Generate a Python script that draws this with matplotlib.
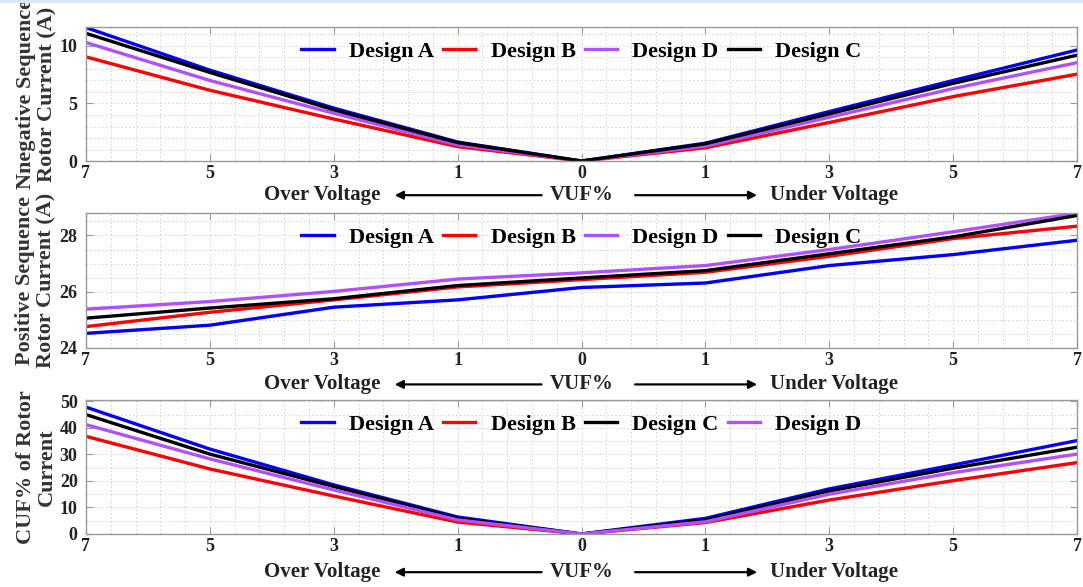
import numpy as np
import matplotlib
matplotlib.use("Agg")
import matplotlib.pyplot as plt
from matplotlib.ticker import MultipleLocator
from matplotlib.lines import Line2D

plt.rcParams["font.family"] = ["Liberation Serif", "DejaVu Serif"]
plt.rcParams["font.weight"] = "bold"

# VUF% levels, over voltage on the left, under voltage on the right
vuf_labels = ["7", "5", "3", "1", "0", "1", "3", "5", "7"]

# negative sequence rotor current (A)
neg_a = [11.6, 7.9, 4.6, 1.65, 0.0, 1.55, 4.3, 7.0, 9.65]
neg_b = [9.05, 6.15, 3.65, 1.25, 0.0, 1.15, 3.35, 5.6, 7.55]
neg_c = [11.1, 7.7, 4.45, 1.6, 0.0, 1.5, 4.1, 6.75, 9.2]
neg_d = [10.3, 7.0, 4.15, 1.4, 0.0, 1.3, 3.8, 6.3, 8.55]

# positive sequence rotor current (A)
pos_a = [24.52, 24.81, 25.45, 25.71, 26.15, 26.31, 26.93, 27.32, 27.83]
pos_b = [24.76, 25.27, 25.71, 26.17, 26.43, 26.69, 27.26, 27.89, 28.33]
pos_c = [25.06, 25.42, 25.75, 26.22, 26.49, 26.75, 27.35, 27.95, 28.71]
pos_d = [25.38, 25.65, 26.01, 26.45, 26.67, 26.93, 27.5, 28.13, 28.79]

# CUF% of rotor current
cuf_a = [47.8, 32.0, 18.5, 6.4, 0.0, 5.9, 17.0, 26.0, 35.2]
cuf_b = [36.8, 24.5, 14.3, 4.5, 0.0, 4.3, 12.8, 20.1, 26.9]
cuf_c = [45.0, 30.1, 17.9, 5.9, 0.0, 5.3, 16.2, 24.8, 32.7]
cuf_d = [41.2, 28.3, 16.6, 5.3, 0.0, 4.6, 15.0, 23.1, 30.1]

colors = {"A": "#0000ff", "B": "#ff0000", "C": "#000000", "D": "#b050ff"}
x = np.arange(len(vuf_labels))

fig = plt.figure(figsize=(10.83, 5.87), dpi=100)
fig.add_artist(Line2D([0, 1], [0.998, 0.998], color="#d5e8f7", lw=2.5,
                      transform=fig.transFigure))

panels = [
    dict(rect=[0.0794, 0.7257, 0.9151, 0.2283],
         series=[("A", neg_a), ("B", neg_b), ("D", neg_d), ("C", neg_c)],
         ylim=(0, 11.65), major=5, minor=1,
         ylabel="Nnegative Sequence\nRotor Current (A)", ann_y=-0.255),
    dict(rect=[0.0794, 0.4072, 0.9151, 0.2300],
         series=[("A", pos_a), ("B", pos_b), ("D", pos_d), ("C", pos_c)],
         ylim=(24, 28.8), major=2, minor=0.5,
         ylabel="Positive Sequence\nRotor Current (A)", ann_y=-0.27),
    dict(rect=[0.0794, 0.0903, 0.9151, 0.2283],
         series=[("A", cuf_a), ("B", cuf_b), ("C", cuf_c), ("D", cuf_d)],
         ylim=(0, 50.5), major=10, minor=5,
         ylabel="CUF% of Rotor\nCurrent", ann_y=-0.285),
]

for p in panels:
    ax = fig.add_axes(p["rect"])
    for name, vals in p["series"]:
        ax.plot(x, vals, color=colors[name], lw=2.4, label="Design " + name)
    ax.set_xlim(0, 8)
    ax.set_ylim(*p["ylim"])
    ax.set_xticks(x)
    ax.set_xticklabels(vuf_labels)
    ax.xaxis.set_minor_locator(MultipleLocator(0.2))
    ax.yaxis.set_major_locator(MultipleLocator(p["major"]))
    ax.yaxis.set_minor_locator(MultipleLocator(p["minor"]))
    ax.grid(which="both", color="#d0d0d0", ls=(0, (1.5, 2.5)), lw=0.7)
    ax.tick_params(which="major", direction="in", length=5, color="#999999",
                   right=True, top=True, labelsize=13, labelcolor="#222222")
    ax.tick_params(axis="x", pad=3)
    ax.tick_params(axis="y", pad=6)
    ax.tick_params(which="minor", length=0)
    for s in ax.spines.values():
        s.set_color("#999999")
        s.set_linewidth(1.0)
    ax.set_ylabel(p["ylabel"], fontsize=16, fontweight="bold",
                  color="#333333", labelpad=2, linespacing=1.1)
    ax.legend(loc="upper center", bbox_to_anchor=(0.5, 1.04), ncol=4,
              frameon=False, fontsize=16, handlelength=1.45,
              columnspacing=0.4, handletextpad=0.7)

    tr = ax.get_xaxis_transform()
    ya = p["ann_y"]
    for xpos, txt in [(1.91, "Over Voltage"), (4.0, "VUF%"),
                      (6.04, "Under Voltage")]:
        ax.text(xpos, ya, txt, transform=tr, ha="center", va="center",
                fontsize=15, fontweight="bold", color="#222222")
    arrow = dict(arrowstyle="-|>", color="black", lw=1.6, mutation_scale=12)
    ax.annotate("", xy=(2.47, ya), xytext=(3.70, ya), xycoords=tr,
                textcoords=tr, arrowprops=arrow)
    ax.annotate("", xy=(5.44, ya), xytext=(4.41, ya), xycoords=tr,
                textcoords=tr, arrowprops=arrow)

fig.savefig("out.png", dpi=100)
